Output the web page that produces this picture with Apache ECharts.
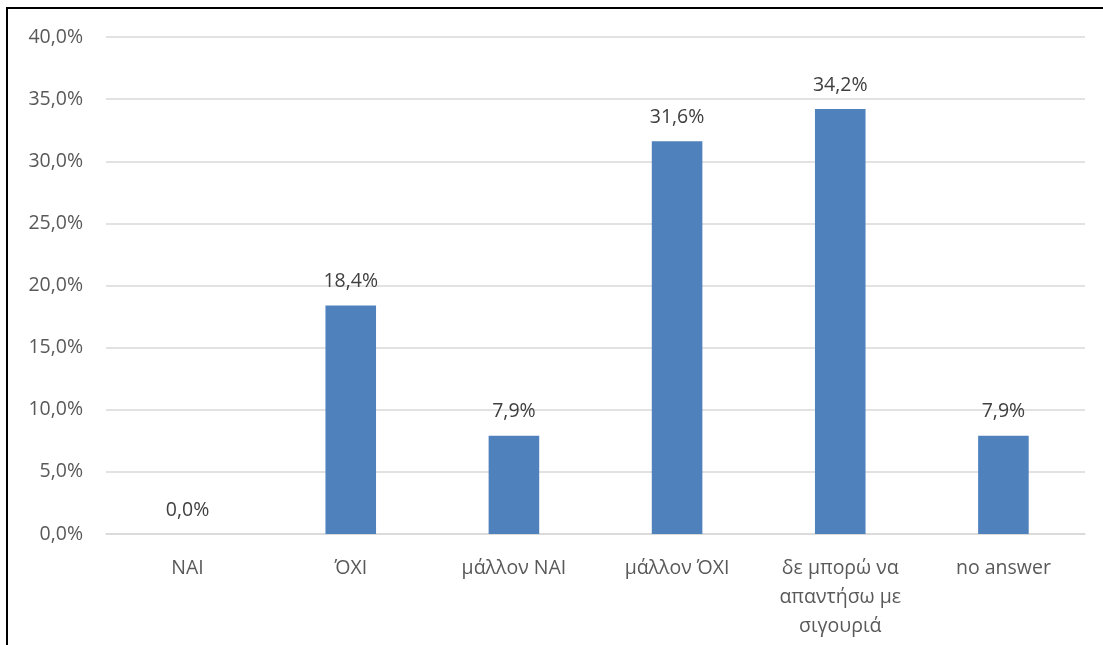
<!DOCTYPE html>
<html>
<head>
<meta charset="utf-8">
<script src="https://cdn.jsdelivr.net/npm/echarts@6/dist/echarts.min.js"></script>
<style>
html,body{margin:0;padding:0;background:#fff;}
#frame{position:absolute;left:6px;top:7px;width:1097px;height:638px;border-left:2px solid #000;border-top:2px solid #000;box-sizing:border-box;}
#chart{position:absolute;left:0;top:0;width:1103px;height:645px;}
</style>
</head>
<body>
<div id="frame"></div>
<div id="chart"></div>
<script>
const categories = ["ΝΑΙ", "ΌΧΙ", "μάλλον ΝΑΙ", "μάλλον ΌΧΙ", "δε μπορώ να\nαπαντήσω με\nσιγουριά", "no answer"];
const values = [0.0, 18.4, 7.9, 31.6, 34.2, 7.9];
const yTicks = { min: 0, max: 40, interval: 5 };

const fmt = v => v.toFixed(1).replace('.', ',') + '%';
const font = '"Open Sans", "DejaVu Sans", sans-serif';

const chart = echarts.init(document.getElementById('chart'));
chart.setOption({
  animation: false,
  grid: { left: 106, right: 18, top: 37, bottom: 111, containLabel: false },
  xAxis: {
    type: 'category',
    data: categories,
    axisLine: { show: true, lineStyle: { color: '#d9d9d9', width: 1.5 } },
    axisTick: { show: false },
    axisLabel: { color: '#595959', fontSize: 19.5, fontFamily: font, margin: 20, lineHeight: 29, interval: 0 }
  },
  yAxis: {
    type: 'value',
    min: yTicks.min, max: yTicks.max, interval: yTicks.interval,
    axisLine: { show: false },
    axisTick: { show: false },
    splitLine: { lineStyle: { color: '#d9d9d9', width: 1.5 } },
    axisLabel: { color: '#595959', fontSize: 19.5, fontFamily: font, margin: 23, formatter: fmt }
  },
  series: [{
    type: 'bar',
    data: values,
    barWidth: '31%',
    itemStyle: { color: '#4F81BD' },
    label: { show: true, position: 'top', distance: 14, color: '#404040', fontSize: 19.5, fontFamily: font, formatter: p => fmt(p.value) }
  }]
});
</script>
</body>
</html>
